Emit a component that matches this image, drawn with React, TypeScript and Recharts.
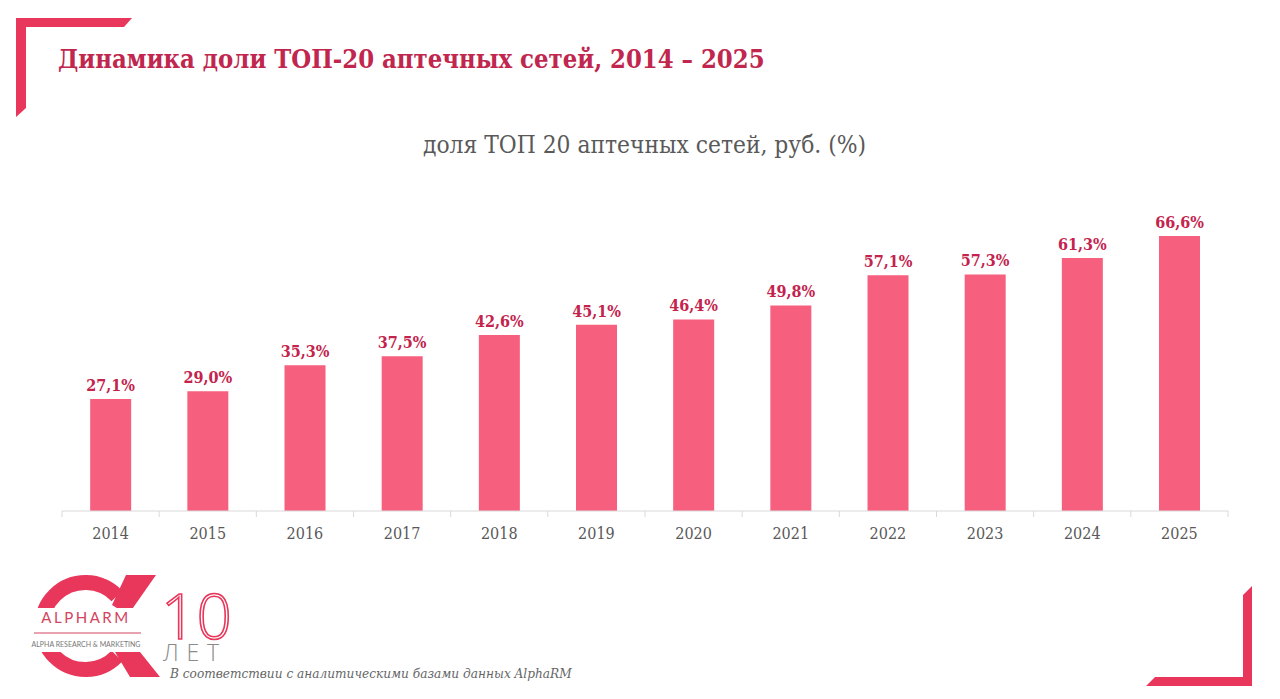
import React from 'react'
import { BarChart, Bar, XAxis, YAxis, LabelList } from 'recharts'

const years = ['2014', '2015', '2016', '2017', '2018', '2019', '2020', '2021', '2022', '2023', '2024', '2025']
const shares = [27.1, 29.0, 35.3, 37.5, 42.6, 45.1, 46.4, 49.8, 57.1, 57.3, 61.3, 66.6]

const data = years.map((y, i) => ({ year: y, share: shares[i] }))

const BAR_COLOR = '#f65f7e'
const LABEL_COLOR = '#c3234d'
const ACCENT = '#e8375b'
const GREY = '#595959'
const SERIF = '"DejaVu Serif Condensed", "DejaVu Serif", serif'

const PLOT_LEFT = 62
const PLOT_RIGHT = 1228
const STEP = (PLOT_RIGHT - PLOT_LEFT) / years.length

function fmt(v: number) {
  return v.toFixed(1).replace('.', ',') + '%'
}

function YearTick(props: any) {
  const { x, y, payload, index } = props
  const left = x - STEP / 2
  return (
    <g>
      <line x1={left} y1={y - 8} x2={left} y2={y - 2} stroke="#d9d9d9" />
      {index === years.length - 1 && (
        <line x1={left + STEP} y1={y - 8} x2={left + STEP} y2={y - 2} stroke="#d9d9d9" />
      )}
      <text x={x} y={y + 20} textAnchor="middle" fill={GREY} style={{ fontFamily: SERIF, fontSize: 16 }}>
        {payload.value}
      </text>
    </g>
  )
}

function Logo() {
  // alpha mark + "10 ЛЕТ"
  return (
    <svg width={220} height={125} style={{ position: 'absolute', left: 20, top: 565 }}>
      <path d="M 97 31 A 43.5 43.5 0 1 0 97 91" fill="none" stroke={ACCENT} strokeWidth={15} />
      <polygon points="106,10 136,10 108,50 92,40" fill={ACCENT} />
      <polygon points="92,82 108,72 140,112 110,112" fill={ACCENT} />
      <rect x={0} y={43} width={124} height={44} fill="#fff" />
      <text x={66} y={58} textAnchor="middle" fill="#d2445e"
        style={{ fontFamily: 'Lato, sans-serif', fontSize: 15, letterSpacing: 2.5 }}>ALPHARM</text>
      <line x1={14} y1={68} x2={121} y2={68} stroke="#d2445e" strokeWidth={1} />
      <text x={66} y={82} textAnchor="middle" fill="#777"
        style={{ fontFamily: 'Lato, sans-serif', fontSize: 7 }}>ALPHA RESEARCH &amp; MARKETING</text>
      <text x={141} y={74} fill="none" stroke={ACCENT} strokeWidth={1.6}
        style={{ fontFamily: '"Open Sans", sans-serif', fontSize: 62, fontWeight: 300 }}>10</text>
      <text x={143} y={96} fill="#8a8a8a" textLength={56}
        style={{ fontFamily: '"Open Sans", sans-serif', fontSize: 23, fontWeight: 300 }}>ЛЕТ</text>
    </svg>
  )
}

export default function App() {
  return (
    <div style={{ position: 'absolute', left: 0, top: 0, width: 1280, height: 699, background: '#fff', overflow: 'hidden' }}>
      {/* corner decorations */}
      <svg width={1280} height={699} style={{ position: 'absolute', left: 0, top: 0 }}>
        <polygon points="16,18 132,18 124,27 26,27 26,108 16,117" fill={ACCENT} />
        <polygon points="1252,586 1252,686 1146,686 1155,677 1243,677 1243,595" fill={ACCENT} />
      </svg>

      <div style={{
        position: 'absolute', left: 58, top: 44, color: '#c0264e',
        fontFamily: SERIF, fontWeight: 700, fontSize: 25.4, whiteSpace: 'nowrap',
      }}>
        Динамика доли ТОП-20 аптечных сетей, 2014 – 2025
      </div>

      <div style={{
        position: 'absolute', left: 0, width: 1289, top: 130, textAlign: 'center', color: GREY,
        fontFamily: SERIF, fontSize: 24.3,
      }}>
        доля ТОП 20 аптечных сетей, руб. (%)
      </div>

      <div style={{ position: 'absolute', left: 0, top: 0 }}>
        <BarChart width={1280} height={560} data={data}
          margin={{ top: 222, right: 1280 - PLOT_RIGHT, bottom: 9, left: PLOT_LEFT }}
          barCategoryGap="29%">
          <XAxis dataKey="year" height={40} axisLine={{ stroke: '#d9d9d9' }} tickLine={false}
            tick={<YearTick />} interval={0} />
          <YAxis hide domain={[0, 70]} />
          <Bar dataKey="share" fill={BAR_COLOR} isAnimationActive={false}>
            <LabelList dataKey="share" position="top" offset={8} formatter={(v: any) => fmt(Number(v))}
              style={{ fill: LABEL_COLOR, fontWeight: 700, fontSize: 16, fontFamily: SERIF }} />
          </Bar>
        </BarChart>
      </div>

      <Logo />

      <div style={{
        position: 'absolute', left: 170, top: 665, color: '#666',
        fontFamily: SERIF, fontStyle: 'italic', fontSize: 13.5, whiteSpace: 'nowrap',
      }}>
        В соответствии с аналитическими базами данных AlphaRM
      </div>
    </div>
  )
}
